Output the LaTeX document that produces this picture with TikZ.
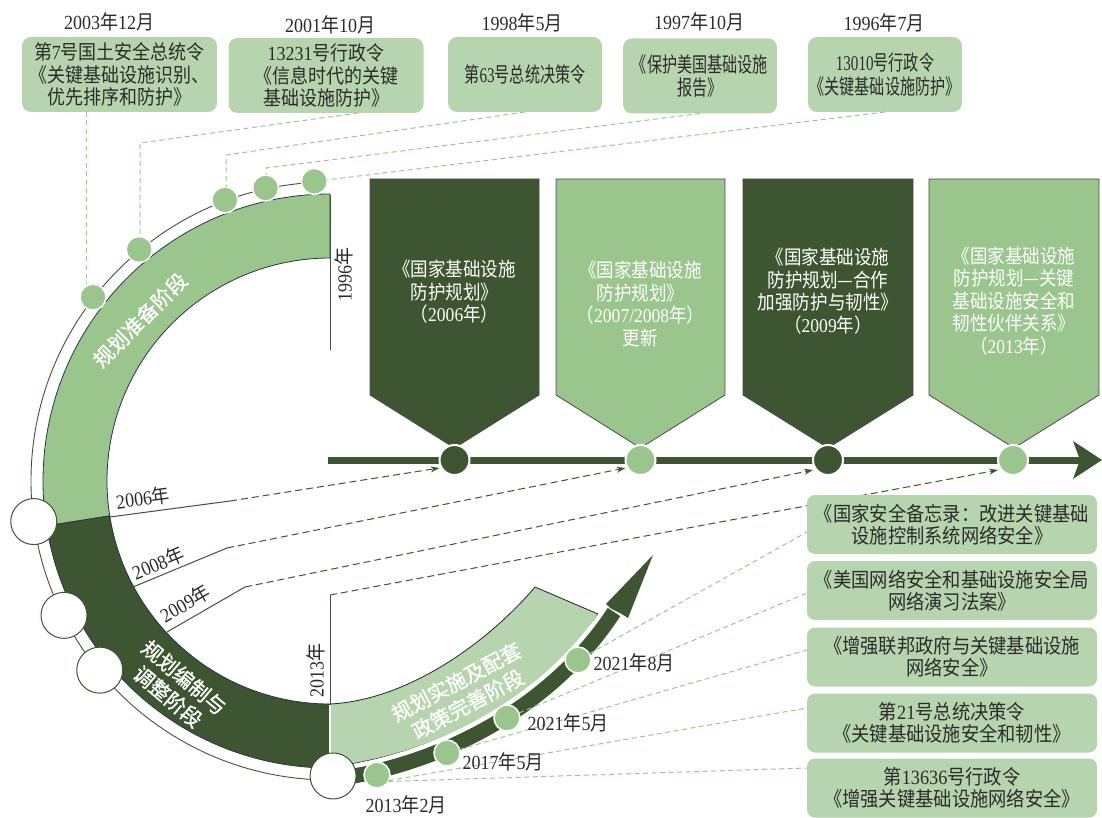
\documentclass[tikz,border=0pt]{standalone}
\usepackage{fontspec}
\setmainfont{Liberation Serif}
\newfontfamily\latR[FakeStretch=0.9]{Liberation Serif}
\newfontfamily\cjkR[FakeStretch=0.9]{Noto Sans CJK SC}
\newfontfamily\latN[FakeStretch=0.72]{Liberation Serif}
\newfontfamily\cjkN[FakeStretch=0.72]{Noto Sans CJK SC}
\newfontfamily\cjkb[FakeBold=1]{Noto Sans CJK SC}
\def\curlat{\latR}
\def\curcjk{\cjkR}
\def\narrowtext{\def\curlat{\latN}\def\curcjk{\cjkN}}
\usetikzlibrary{arrows.meta}
\XeTeXinterchartokenstate=1
\newXeTeXintercharclass\CJKcls
\makeatletter
\def\setcjkrange#1#2{\count@=#1\relax
  \loop\XeTeXcharclass\count@=\CJKcls
  \ifnum\count@<#2\relax\advance\count@\@ne\repeat}
\setcjkrange{"3000}{"303F}
\setcjkrange{"4E00}{"9FFF}
\setcjkrange{"FF00}{"FFEF}
\makeatother
\XeTeXcharclass"2014=\CJKcls
\XeTeXinterchartoks 0 \CJKcls = {\curcjk}
\XeTeXinterchartoks 4095 \CJKcls = {\curcjk}
\XeTeXinterchartoks \CJKcls 0 = {\curlat}
\XeTeXinterchartoks 4095 0 = {\curlat}
\def\nointer{\XeTeXinterchartokenstate0\relax}
\definecolor{dk}{HTML}{3D5530}
\definecolor{md}{HTML}{9AC68E}
\definecolor{lt}{HTML}{B6D5AE}
\definecolor{txt}{HTML}{2B2B2B}
\definecolor{edge}{HTML}{2A3548}
\definecolor{pedge}{HTML}{4A4A4A}
\begin{document}
\begin{tikzpicture}[x=1pt,y=-1pt,
 every node/.style={inner sep=0pt, outer sep=0pt},
 tbox/.style={fill=lt, rounded corners=9pt, text=txt, align=center, minimum height=75pt},
 bbox/.style={fill=lt, rounded corners=8pt, text=txt, align=center, minimum width=290pt, minimum height=59pt, font=\fontsize{20.3}{21.7}\selectfont},
 lab/.style={text=txt, font=\fontsize{20}{24}\selectfont},
 dot/.style={circle, fill=md, draw=white, line width=1.5pt, minimum size=26pt},
 wdot/.style={circle, fill=white, draw=dk, line width=1pt, minimum size=46pt},
 kdot/.style={circle, draw=white, line width=2pt, minimum size=30pt},
 gdash/.style={md, dash pattern=on 5pt off 3.5pt, line width=1pt},
 ddash/.style={dk, dash pattern=on 7pt off 4pt, line width=1pt, -{Stealth[length=9pt,width=6pt]}},
 dline/.style={dk, line width=1pt},
 ptext/.style={text=white, align=center, font=\fontsize{19.5}{22.5}\selectfont},
 band/.style={draw=edge, line width=0.8pt},
 blab/.style={text=white, align=center, font=\nointer\cjkb\fontsize{20.5}{25}\selectfont},
 pent/.style={draw=pedge, line width=0.8pt}
]
\useasboundingbox (0,0) rectangle (1102,818);

% ---- ring and bands ----
\begin{scope}[shift={(330,481)}]
 \draw[dk, line width=0.9pt] (-93:299) arc[start angle=-93, end angle=-270, radius=299];
 \filldraw[fill=md, band] (-90:287) arc[start angle=-90,end angle=-189,radius=287] -- (-189:223) arc[start angle=-189,end angle=-90,radius=223] -- cycle;
 \filldraw[fill=dk, band] (-189:287) arc[start angle=-189,end angle=-270,radius=287] -- (-270:223) arc[start angle=-270,end angle=-189,radius=223] -- cycle;
\end{scope}

% third band
\filldraw[fill=lt, draw=black!85, line width=0.8pt] (330,704) .. controls (410,700) and (490,640) .. (535,587) -- (598,614) .. controls (551,692) and (445,753) .. (330,767) -- cycle;
\draw[white, line width=1.5pt] (330,705) -- (330,767);

% bottom arrow
\coordinate (sh0) at (335,779);
\coordinate (sh1) at (614,612);
\draw[white, line width=24pt] (sh0) .. controls (445,764) and (553.5,705) .. (sh1);
\draw[dk, line width=15pt] (sh0) .. controls (445,764) and (553.5,705) .. (sh1);
\fill[dk] (653,555) -- (628,618) -- (620,613) -- (611,608.5) -- (606,604) -- cycle;

% circles on ring
\begin{scope}[shift={(330,481)}]
 \node[dot] (c1) at (-142.2:300) {};
 \node[dot] (c2) at (-129.5:300) {};
 \node[dot] (c3) at (-110.5:300) {};
 \node[dot] (c4) at (-102.4:300) {};
 \node[dot] (c5) at (-93:300) {};
 \node[wdot] (w1) at (-187.8:299) {};
 \node[wdot] (w2) at (-206.8:298) {};
 \node[wdot] (w3) at (-219.4:298) {};
 \node[wdot] (w4) at (-270.6:295) {};
\end{scope}

% bottom arrow circles
\node[dot] (e1) at (377,775) {};
\node[dot] (e2) at (447,753) {};
\node[dot] (e3) at (507,718) {};
\node[dot] (e4) at (578,660) {};

% band labels
\node[blab, rotate=45] (L1) at (140,320) {规划准备阶段};
\node[blab, rotate=-40] (L2) at (176,687) {规划编制与\\调整阶段};
\node[blab, rotate=28] (L3) at (462,693) {规划实施及配套\\政策完善阶段};

% ---- top boxes ----
\node[tbox, minimum width=195pt, font=\fontsize{20}{22.5}\selectfont] (t1) at (119.5,74.5) {第7号国土安全总统令\\《关键基础设施识别、\\优先排序和防护》};
\node[tbox, minimum width=195pt, font=\fontsize{20}{22.5}\selectfont] (t2) at (326,75.5) {13231号行政令\\《信息时代的关键\\基础设施防护》};
\node[tbox, minimum width=154pt, font=\narrowtext\fontsize{21}{23}\selectfont] (t3) at (525,74.5) {第63号总统决策令};
\node[tbox, minimum width=154pt, font=\narrowtext\fontsize{21}{23}\selectfont] (t4) at (700,76) {《保护美国基础设施\\报告》};
\node[tbox, minimum width=154pt, font=\narrowtext\fontsize{21}{24}\selectfont] (t5) at (885,74.5) {13010号行政令\\《关键基础设施防护》};

\node[lab] (d1) at (109,22) {2003年12月};
\node[lab] (d2) at (330,25) {2001年10月};
\node[lab] (d3) at (522,23) {1998年5月};
\node[lab] (d4) at (699,22) {1997年10月};
\node[lab] (d5) at (884,23) {1996年7月};

\coordinate (q2) at (140,143);
\coordinate (q3) at (226,155);
\coordinate (q4) at (266,168);
\draw[gdash] ([xshift=-33pt]t1.south) -- ([xshift=-33pt]t1.south |- c1.north);
\draw[gdash] ([xshift=32pt]t2.south) -- (q2) -- (q2 |- c2.north);
\draw[gdash] (t3.south) -- (q3) -- (q3 |- c3.north);
\draw[gdash] (t4.south) -- (q4) -- (q4 |- c4.north);
\draw[gdash] (t5.south) -- (c5);

% ---- pentagons ----
\filldraw[fill=dk, pent] (370,179) -- (539,179) -- (539,395) -- (454.5,448) -- (370,395) -- cycle;
\filldraw[fill=md, pent] (556,179) -- (725,179) -- (725,395) -- (640.5,448) -- (556,395) -- cycle;
\filldraw[fill=dk, pent] (743,179) -- (913,179) -- (913,395) -- (828,448) -- (743,395) -- cycle;
\filldraw[fill=md, pent] (929,179) -- (1099,179) -- (1099,395) -- (1014,448) -- (929,395) -- cycle;
\node[ptext] (pt1) at (454.5,292) {《国家基础设施\\防护规划》\\（2006年）};
\node[ptext] (pt2) at (640.5,304) {《国家基础设施\\防护规划》\\（2007/2008年）\\更新};
\node[ptext] (pt3) at (828,291) {《国家基础设施\\防护规划—合作\\加强防护与韧性》\\（2009年）};
\node[ptext] (pt4) at (1014,301) {《国家基础设施\\防护规划—关键\\基础设施安全和\\韧性伙伴关系》\\（2013年）};

% ---- timeline ----
\coordinate (tlA) at (328,460);
\coordinate (tlB) at (1080,460);
\draw[dk, line width=7pt] (tlA) -- (tlB);
\fill[dk] (1102,460) -- (1073,441) -- (1080,460) -- (1073,479) -- cycle;
\node[kdot, fill=dk] (k1) at (454.5,460) {};
\node[kdot, fill=md] (k2) at (640.5,460) {};
\node[kdot, fill=dk] (k3) at (828,460) {};
\node[kdot, fill=md] (k4) at (1013,460) {};

% ---- year lines ----
\coordinate (v96a) at (330,195);
\coordinate (v96b) at (330,350);
\draw[dline] (v96a) -- (v96b);
\node[lab, rotate=90] (y96) at (344,274) {1996年};

\coordinate (s06) at (110,517);
\coordinate (b06) at (230,501);
\draw[dline] (s06) -- (b06);
\draw[ddash] (b06) -- ([yshift=-8pt]k1.west);
\node[lab, rotate=7.5] (y06) at (143,498) {2006年};

\coordinate (s08) at (133,587);
\coordinate (b08) at (227,548);
\draw[dline] (s08) -- (b08);
\draw[ddash] (b08) -- ([yshift=-8pt]k2.west);
\node[lab, rotate=22.5] (y08) at (158,563) {2008年};

\coordinate (s09) at (167,632);
\coordinate (b09) at (245,587);
\draw[dline] (s09) -- (b09);
\draw[ddash] (b09) -- ([yshift=-10pt]k3.west);
\node[lab, rotate=30] (y09) at (185,603) {2009年};

\coordinate (v13a) at (330,704);
\coordinate (v13b) at (330,595);
\draw[dline] (v13a) -- (v13b);
\draw[ddash] (v13b) -- ([yshift=-10pt]k4.west);
\node[lab, rotate=90] (y13) at (316,670) {2013年};

% ---- bottom boxes ----
\node[bbox] (bA) at (952,524.5) {《国家安全备忘录：改进关键基础\\设施控制系统网络安全》};
\node[bbox] (bB) at (952,590.5) {《美国网络安全和基础设施安全局\\网络演习法案》};
\node[bbox] (bC) at (952,657) {《增强联邦政府与关键基础设施\\网络安全》};
\node[bbox] (bD) at (952,723) {第21号总统决策令\\《关键基础设施安全和韧性》};
\node[bbox] (bE) at (952,788) {第13636号行政令\\《增强关键基础设施网络安全》};

\draw[gdash] (e4) -- ([yshift=-7.5pt]bA.west);
\draw[gdash] (e3) -- ([yshift=-2.5pt]bB.west);
\draw[gdash] (e2) -- ([yshift=7pt]bC.west);
\draw[gdash] (e1.-25) -- ([yshift=15pt]bD.west);
\draw[gdash] (e1.-30) -- ([yshift=20pt]bE.west);

\node[lab] (f1) at (406,805) {2013年2月};
\node[lab] (f2) at (503,762) {2017年5月};
\node[lab] (f3) at (568,723) {2021年5月};
\node[lab] (f4) at (634,663) {2021年8月};
\end{tikzpicture}
\end{document}
